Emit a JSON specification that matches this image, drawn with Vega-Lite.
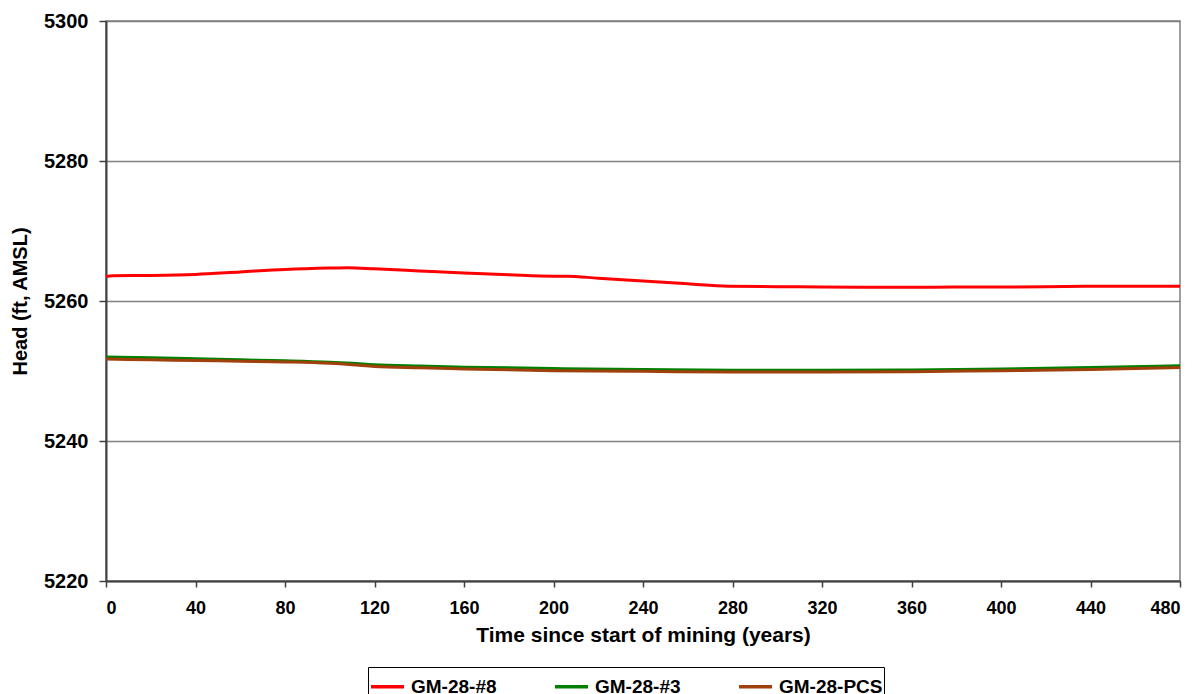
{
  "$schema": "https://vega.github.io/schema/vega-lite/v6.json",
  "autosize": {"type": "none"},
  "width": 1074,
  "height": 560,
  "padding": {"left": 106, "top": 21, "right": 21, "bottom": 113},
  "background": "white",
  "config": {
    "font": "Liberation Sans",
    "view": {"stroke": "#808080", "strokeWidth": 1.5}
  },
  "data": {
    "values": [
      {"t": 0, "head": 5263.5, "well": "GM-28-#8"},
      {"t": 3, "head": 5263.6, "well": "GM-28-#8"},
      {"t": 20, "head": 5263.65, "well": "GM-28-#8"},
      {"t": 40, "head": 5263.8, "well": "GM-28-#8"},
      {"t": 60, "head": 5264.15, "well": "GM-28-#8"},
      {"t": 80, "head": 5264.5, "well": "GM-28-#8"},
      {"t": 100, "head": 5264.7, "well": "GM-28-#8"},
      {"t": 108, "head": 5264.75, "well": "GM-28-#8"},
      {"t": 120, "head": 5264.6, "well": "GM-28-#8"},
      {"t": 140, "head": 5264.3, "well": "GM-28-#8"},
      {"t": 160, "head": 5264.0, "well": "GM-28-#8"},
      {"t": 180, "head": 5263.75, "well": "GM-28-#8"},
      {"t": 200, "head": 5263.55, "well": "GM-28-#8"},
      {"t": 206, "head": 5263.55, "well": "GM-28-#8"},
      {"t": 220, "head": 5263.25, "well": "GM-28-#8"},
      {"t": 240, "head": 5262.85, "well": "GM-28-#8"},
      {"t": 260, "head": 5262.45, "well": "GM-28-#8"},
      {"t": 278, "head": 5262.1, "well": "GM-28-#8"},
      {"t": 300, "head": 5262.05, "well": "GM-28-#8"},
      {"t": 320, "head": 5262.0, "well": "GM-28-#8"},
      {"t": 340, "head": 5261.95, "well": "GM-28-#8"},
      {"t": 360, "head": 5261.95, "well": "GM-28-#8"},
      {"t": 380, "head": 5262.0, "well": "GM-28-#8"},
      {"t": 400, "head": 5262.0, "well": "GM-28-#8"},
      {"t": 420, "head": 5262.05, "well": "GM-28-#8"},
      {"t": 440, "head": 5262.1, "well": "GM-28-#8"},
      {"t": 460, "head": 5262.1, "well": "GM-28-#8"},
      {"t": 480, "head": 5262.1, "well": "GM-28-#8"},
      {"t": 0, "head": 5252.0, "well": "GM-28-#3"},
      {"t": 20, "head": 5251.9, "well": "GM-28-#3"},
      {"t": 40, "head": 5251.75, "well": "GM-28-#3"},
      {"t": 60, "head": 5251.6, "well": "GM-28-#3"},
      {"t": 80, "head": 5251.45, "well": "GM-28-#3"},
      {"t": 100, "head": 5251.25, "well": "GM-28-#3"},
      {"t": 110, "head": 5251.1, "well": "GM-28-#3"},
      {"t": 120, "head": 5250.9, "well": "GM-28-#3"},
      {"t": 140, "head": 5250.7, "well": "GM-28-#3"},
      {"t": 160, "head": 5250.55, "well": "GM-28-#3"},
      {"t": 200, "head": 5250.35, "well": "GM-28-#3"},
      {"t": 240, "head": 5250.2, "well": "GM-28-#3"},
      {"t": 280, "head": 5250.1, "well": "GM-28-#3"},
      {"t": 320, "head": 5250.1, "well": "GM-28-#3"},
      {"t": 360, "head": 5250.15, "well": "GM-28-#3"},
      {"t": 400, "head": 5250.3, "well": "GM-28-#3"},
      {"t": 440, "head": 5250.5, "well": "GM-28-#3"},
      {"t": 480, "head": 5250.75, "well": "GM-28-#3"},
      {"t": 0, "head": 5251.7, "well": "GM-28-PCS"},
      {"t": 20, "head": 5251.6, "well": "GM-28-PCS"},
      {"t": 40, "head": 5251.5, "well": "GM-28-PCS"},
      {"t": 60, "head": 5251.4, "well": "GM-28-PCS"},
      {"t": 80, "head": 5251.3, "well": "GM-28-PCS"},
      {"t": 100, "head": 5251.1, "well": "GM-28-PCS"},
      {"t": 110, "head": 5250.9, "well": "GM-28-PCS"},
      {"t": 120, "head": 5250.65, "well": "GM-28-PCS"},
      {"t": 140, "head": 5250.45, "well": "GM-28-PCS"},
      {"t": 160, "head": 5250.3, "well": "GM-28-PCS"},
      {"t": 200, "head": 5250.05, "well": "GM-28-PCS"},
      {"t": 240, "head": 5249.95, "well": "GM-28-PCS"},
      {"t": 280, "head": 5249.85, "well": "GM-28-PCS"},
      {"t": 320, "head": 5249.85, "well": "GM-28-PCS"},
      {"t": 360, "head": 5249.9, "well": "GM-28-PCS"},
      {"t": 400, "head": 5250.05, "well": "GM-28-PCS"},
      {"t": 440, "head": 5250.2, "well": "GM-28-PCS"},
      {"t": 480, "head": 5250.5, "well": "GM-28-PCS"}
    ]
  },
  "mark": {"type": "line", "strokeWidth": 3, "interpolate": "monotone"},
  "encoding": {
    "x": {
      "field": "t",
      "type": "quantitative",
      "scale": {"domain": [0, 480], "nice": false, "zero": false},
      "axis": {
        "values": [0, 40, 80, 120, 160, 200, 240, 280, 320, 360, 400, 440, 480],
        "format": "d",
        "title": "Time since start of mining (years)",
        "titleFont": "Liberation Sans",
        "titleFontSize": 21,
        "titleFontWeight": "bold",
        "titleColor": "#000000",
        "titlePadding": 7,
        "labelFont": "Liberation Sans",
        "labelFontSize": 18,
        "labelFontWeight": "bold",
        "labelColor": "#000000",
        "labelPadding": 12,
        "tickSize": 6,
        "tickColor": "#404040",
        "tickWidth": 1.5,
        "domainColor": "#404040",
        "domainWidth": 2,
        "grid": false
      }
    },
    "y": {
      "field": "head",
      "type": "quantitative",
      "scale": {"domain": [5220, 5300], "nice": false, "zero": false},
      "axis": {
        "values": [5220, 5240, 5260, 5280, 5300],
        "format": "d",
        "title": "Head (ft, AMSL)",
        "titleFont": "Liberation Sans",
        "titleFontSize": 20,
        "titleFontWeight": "bold",
        "titleColor": "#000000",
        "titlePadding": 13,
        "labelFont": "Liberation Sans",
        "labelFontSize": 20,
        "labelFontWeight": "bold",
        "labelColor": "#000000",
        "labelPadding": 11,
        "tickSize": 7,
        "tickColor": "#404040",
        "tickWidth": 1.5,
        "domainColor": "#404040",
        "domainWidth": 2,
        "grid": true,
        "gridColor": "#808080",
        "gridWidth": 1.5
      }
    },
    "color": {
      "field": "well",
      "type": "nominal",
      "sort": ["GM-28-#8", "GM-28-#3", "GM-28-PCS"],
      "scale": {
        "domain": ["GM-28-#8", "GM-28-#3", "GM-28-PCS"],
        "range": ["#ff0000", "#008000", "#a0400c"]
      },
      "legend": {
        "title": null,
        "orient": "none",
        "legendX": 262,
        "legendY": 646,
        "direction": "horizontal",
        "columns": 3,
        "columnPadding": 51,
        "symbolType": "stroke",
        "symbolSize": 1089,
        "symbolStrokeWidth": 3.5,
        "labelFont": "Liberation Sans",
        "labelFontSize": 19,
        "labelFontWeight": "bold",
        "labelColor": "#000000",
        "labelOffset": 5,
        "strokeColor": "#000000",
        "padding": 1,
        "fillColor": "white"
      }
    },
    "order": {"field": "well", "type": "nominal"}
  }
}
